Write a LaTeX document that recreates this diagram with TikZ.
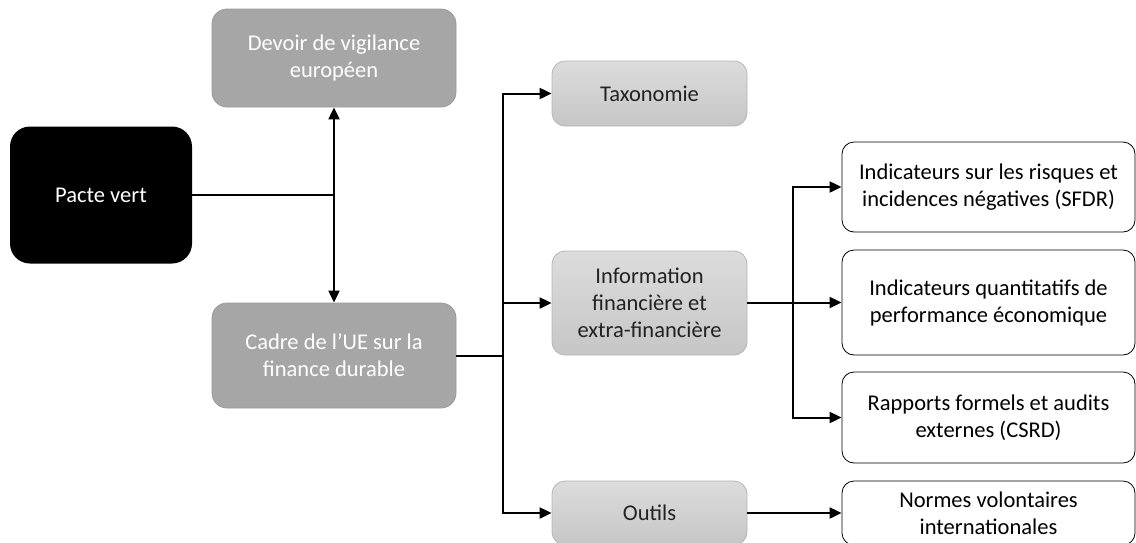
\documentclass[tikz,border=0pt]{standalone}
\usepackage{fontspec}
\setmainfont{Carlito}
\usetikzlibrary{arrows.meta}
\definecolor{midgray}{HTML}{A6A6A6}
\definecolor{midedge}{HTML}{9A9A9A}
\definecolor{lighttop}{HTML}{DCDCDC}
\definecolor{lightbot}{HTML}{C6C6C6}
\definecolor{lightedge}{HTML}{B4B4B4}
\definecolor{darktext}{HTML}{222222}
\tikzset{
  box/.style={align=center, inner sep=0pt, font=\fontsize{22.5}{27}\selectfont},
  dark/.style={box, fill=black, text=white, rounded corners=20pt},
  mid/.style={box, fill=midgray, draw=midedge, line width=0.8pt, text=white, rounded corners=15pt},
  light/.style={box, top color=lighttop, bottom color=lightbot, draw=lightedge, line width=0.8pt, text=darktext, rounded corners=13pt},
  plain/.style={box, fill=white, draw=black, line width=0.8pt, text=black, rounded corners=12pt},
  link/.style={line width=2pt},
  arr/.style={link, -{Triangle[length=12pt,width=11pt]}}
}
\begin{document}
\begin{tikzpicture}[x=1pt,y=-1pt]
    \useasboundingbox (0,0) rectangle (1136,542);
    \node [dark, minimum width=182pt, minimum height=137pt] (pacte) at (101,195) {Pacte vert};
    \node [mid, minimum width=244pt, minimum height=98pt] (devoir) at (334,58) {Devoir de vigilance\\européen};
    \node [mid, minimum width=244pt, minimum height=105pt] (cadre) at (334,355.5) {Cadre de l’UE sur la\\finance durable};
    \node [light, minimum width=195pt, minimum height=65pt] (taxo) at (649.5,93.5) {Taxonomie};
    \node [light, minimum width=195pt, minimum height=104pt] (info) at (649.5,303) {Information\\financière et\\extra-financière};
    \node [light, minimum width=195pt, minimum height=64pt] (outils) at (649.5,513) {Outils};
    \node [plain, minimum width=293pt, minimum height=90pt] (sfdr) at (988.5,187) {Indicateurs sur les risques et\\incidences négatives (SFDR)};
    \node [plain, minimum width=293pt, minimum height=105pt] (perf) at (988.5,302.5) {Indicateurs quantitatifs de\\performance économique};
    \node [plain, minimum width=293pt, minimum height=91pt] (csrd) at (988.5,417.5) {Rapports formels et audits\\externes (CSRD)};
    \node [plain, minimum width=293pt, minimum height=64pt] (normes) at (988.5,513) {Normes volontaires\\internationales};
    \coordinate (pj) at (334,195);
    \coordinate (cj) at (503,355.5);
    \coordinate (ij) at (793,303);
    \draw [link] (pacte.east) -- (pj);
    \draw [arr] (pj) -- (devoir.south);
    \draw [arr] (pj) -- (cadre.north);
    \draw [link] (cadre.east) -- (cj);
    \draw [arr] (cj) |- (taxo.west);
    \draw [arr] (cj) |- (info.west);
    \draw [arr] (cj) |- (outils.west);
    \draw [link] (info.east) -- (ij);
    \draw [arr] (ij) |- (sfdr.west);
    \draw [arr] (ij) |- (perf.west);
    \draw [arr] (ij) |- (csrd.west);
    \draw [arr] (outils.east) -- (normes.west);
\end{tikzpicture}
\end{document}
